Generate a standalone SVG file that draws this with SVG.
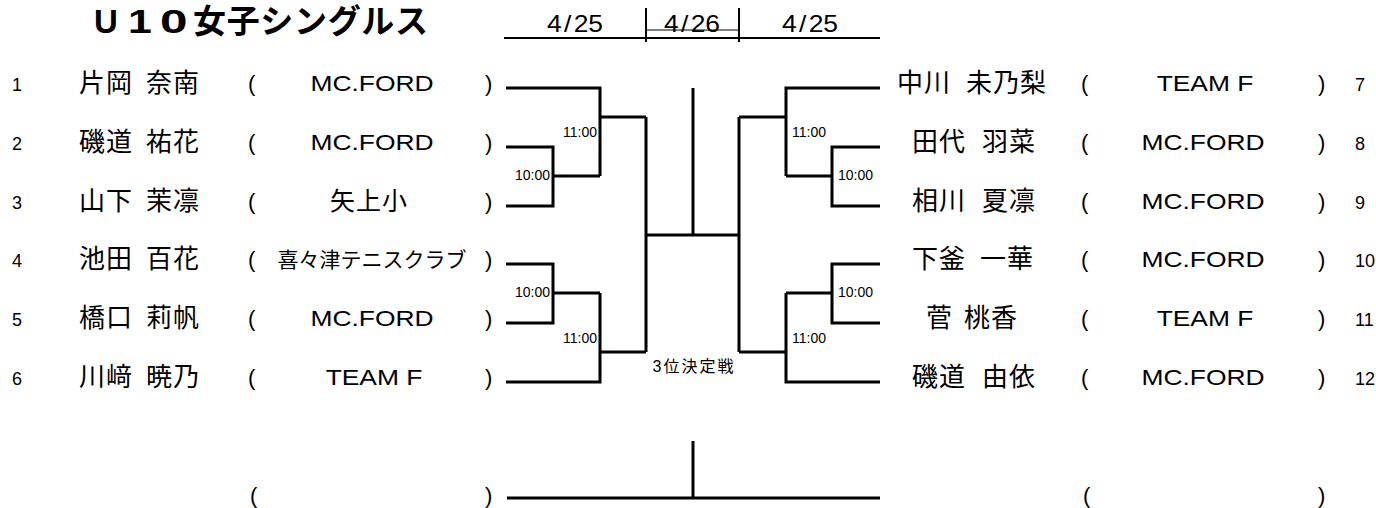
<svg xmlns="http://www.w3.org/2000/svg" width="1376" height="508" viewBox="0 0 1376 508">
<style>
.bg{fill:#fff}
.ln{stroke:#000;stroke-width:3;fill:none}
.hd{stroke:#000;stroke-width:2;fill:none}
.thin{stroke:#000;stroke-width:1;fill:none}
text{font-family:'Liberation Sans','Noto Sans CJK JP',sans-serif;fill:#000}
.num{font-size:18px}
.name{font-size:26px;letter-spacing:1px}
.aff{font-size:22px;text-anchor:middle}
.par{font-size:22px}
.time{font-size:14px}
.tr{text-anchor:end}
.date{font-size:23px;text-anchor:middle}
.title{font-size:33px;font-weight:bold}
.third{font-size:16px;text-anchor:middle}
</style>
<rect class="bg" x="0" y="0" width="1376" height="508"/>

<g id="title">
<text class="title" y="33"><tspan x="94">U</tspan></text>
<text class="title" transform="translate(128,33) scale(1.3,1)">1</text>
<text class="title" transform="translate(160,33) scale(1.5,1)">0</text>
<text class="title" x="193" y="33" textLength="235" lengthAdjust="spacing">女子シングルス</text>
</g>

<g id="header">
<path class="hd" d="M504,38 H880 M646,8 V42 M739,8 V42"/>
<path class="thin" d="M646,30 H739"/>
<text class="date" transform="translate(575,32) scale(1.15,1)">4<tspan dx="2">/</tspan><tspan dx="2">25</tspan></text>
<text class="date" transform="translate(692,32) scale(1.15,1)">4<tspan dx="2">/</tspan><tspan dx="2">26</tspan></text>
<text class="date" transform="translate(810,32) scale(1.15,1)">4<tspan dx="2">/</tspan><tspan dx="2">25</tspan></text>
</g>

<g id="connectors">
<path class="ln" d="M506,88 H600 V176 M600,117 H646 M506,147 H553 V206 H506 M553,176 H600"/>
<path class="ln" d="M506,264 H553 V323 H506 M553,293 H600 M600,293 V382 H506 M600,352 H646"/>
<path class="ln" d="M880,88 H786 V176 M786,117 H739 M880,147 H832 V206 H880 M832,176 H786"/>
<path class="ln" d="M880,264 H832 V323 H880 M832,293 H786 M786,293 V382 H880 M786,352 H739"/>
<path class="ln" d="M646,117 V352 M739,117 V352 M646,235 H739 M693,88 V235"/>
<path class="ln" d="M507,498 H880 M693,441 V498"/>
</g>

<g id="times">
<text class="time tr" x="597" y="137">11:00</text>
<text class="time tr" x="550" y="180">10:00</text>
<text class="time tr" x="550" y="297">10:00</text>
<text class="time tr" x="597" y="343">11:00</text>
<text class="time" x="792" y="137">11:00</text>
<text class="time" x="838" y="180">10:00</text>
<text class="time" x="838" y="297">10:00</text>
<text class="time" x="792" y="343">11:00</text>
<text class="third" x="693" y="372" textLength="81" lengthAdjust="spacing">3位決定戦</text>
</g>

<g id="p1">
<text class="num" x="12" y="91">1</text>
<text class="name" y="92"><tspan x="79">片岡</tspan> <tspan x="146">奈南</tspan></text>
<text class="par" x="248" y="91">(</text>
<text class="aff" transform="translate(372,91) scale(1.2,1)">MC.FORD</text>
<text class="par" x="485" y="91">)</text>
</g>
<g id="p2">
<text class="num" x="12" y="150">2</text>
<text class="name" y="151"><tspan x="79">磯道</tspan> <tspan x="146">祐花</tspan></text>
<text class="par" x="248" y="150">(</text>
<text class="aff" transform="translate(372,150) scale(1.2,1)">MC.FORD</text>
<text class="par" x="485" y="150">)</text>
</g>
<g id="p3">
<text class="num" x="12" y="209">3</text>
<text class="name" y="210"><tspan x="79">山下</tspan> <tspan x="146">茉凛</tspan></text>
<text class="par" x="248" y="209">(</text>
<text class="aff" x="369" y="210" style="font-size:25px;letter-spacing:1px">矢上小</text>
<text class="par" x="485" y="209">)</text>
</g>
<g id="p4">
<text class="num" x="12" y="267">4</text>
<text class="name" y="268"><tspan x="79">池田</tspan> <tspan x="146">百花</tspan></text>
<text class="par" x="248" y="267">(</text>
<text class="aff" x="372" y="267" style="font-size:21px" textLength="189" lengthAdjust="spacing">喜々津テニスクラブ</text>
<text class="par" x="485" y="267">)</text>
</g>
<g id="p5">
<text class="num" x="12" y="326">5</text>
<text class="name" y="327"><tspan x="79">橋口</tspan> <tspan x="146">莉帆</tspan></text>
<text class="par" x="248" y="326">(</text>
<text class="aff" transform="translate(372,326) scale(1.2,1)">MC.FORD</text>
<text class="par" x="485" y="326">)</text>
</g>
<g id="p6">
<text class="num" x="12" y="385">6</text>
<text class="name" y="386"><tspan x="79">川﨑</tspan> <tspan x="146">暁乃</tspan></text>
<text class="par" x="248" y="385">(</text>
<text class="aff" transform="translate(374,385) scale(1.2,1)">TEAM F</text>
<text class="par" x="485" y="385">)</text>
</g>

<g id="p7">
<text class="name" y="92"><tspan x="897">中川</tspan> <tspan x="966">未乃梨</tspan></text>
<text class="par" x="1081" y="91">(</text>
<text class="aff" transform="translate(1205,91) scale(1.2,1)">TEAM F</text>
<text class="par" x="1318" y="91">)</text>
<text class="num" x="1355" y="91">7</text>
</g>
<g id="p8">
<text class="name" y="151"><tspan x="912">田代</tspan> <tspan x="982">羽菜</tspan></text>
<text class="par" x="1081" y="150">(</text>
<text class="aff" transform="translate(1203,150) scale(1.2,1)">MC.FORD</text>
<text class="par" x="1318" y="150">)</text>
<text class="num" x="1355" y="150">8</text>
</g>
<g id="p9">
<text class="name" y="210"><tspan x="912">相川</tspan> <tspan x="982">夏凛</tspan></text>
<text class="par" x="1081" y="209">(</text>
<text class="aff" transform="translate(1203,209) scale(1.2,1)">MC.FORD</text>
<text class="par" x="1318" y="209">)</text>
<text class="num" x="1355" y="209">9</text>
</g>
<g id="p10">
<text class="name" y="268"><tspan x="912">下釜</tspan> <tspan x="980">一華</tspan></text>
<text class="par" x="1081" y="267">(</text>
<text class="aff" transform="translate(1203,267) scale(1.2,1)">MC.FORD</text>
<text class="par" x="1318" y="267">)</text>
<text class="num" x="1355" y="267">10</text>
</g>
<g id="p11">
<text class="name" y="327"><tspan x="926">菅</tspan> <tspan x="964">桃香</tspan></text>
<text class="par" x="1081" y="326">(</text>
<text class="aff" transform="translate(1205,326) scale(1.2,1)">TEAM F</text>
<text class="par" x="1318" y="326">)</text>
<text class="num" x="1355" y="326">11</text>
</g>
<g id="p12">
<text class="name" y="386"><tspan x="912">磯道</tspan> <tspan x="982">由依</tspan></text>
<text class="par" x="1081" y="385">(</text>
<text class="aff" transform="translate(1203,385) scale(1.2,1)">MC.FORD</text>
<text class="par" x="1318" y="385">)</text>
<text class="num" x="1355" y="385">12</text>
</g>

<g id="third-place">
<text class="par" x="250" y="503">(</text>
<text class="par" x="485" y="503">)</text>
<text class="par" x="1083" y="503">(</text>
<text class="par" x="1318" y="503">)</text>
</g>
</svg>
